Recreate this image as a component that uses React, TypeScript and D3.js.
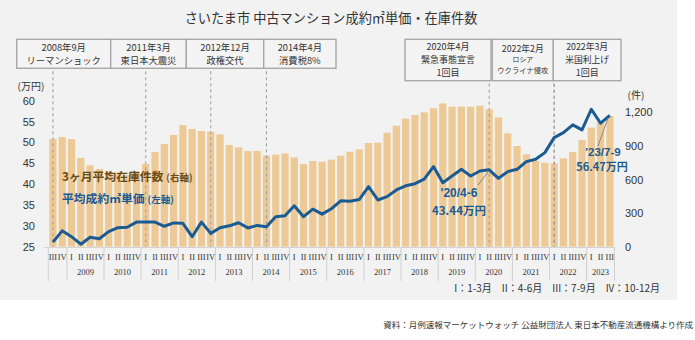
import React from "react";
import * as d3 from "d3";

const quarters: string[] = [
  "2008Q3","2008Q4",
  "2009Q1","2009Q2","2009Q3","2009Q4",
  "2010Q1","2010Q2","2010Q3","2010Q4",
  "2011Q1","2011Q2","2011Q3","2011Q4",
  "2012Q1","2012Q2","2012Q3","2012Q4",
  "2013Q1","2013Q2","2013Q3","2013Q4",
  "2014Q1","2014Q2","2014Q3","2014Q4",
  "2015Q1","2015Q2","2015Q3","2015Q4",
  "2016Q1","2016Q2","2016Q3","2016Q4",
  "2017Q1","2017Q2","2017Q3","2017Q4",
  "2018Q1","2018Q2","2018Q3","2018Q4",
  "2019Q1","2019Q2","2019Q3","2019Q4",
  "2020Q1","2020Q2","2020Q3","2020Q4",
  "2021Q1","2021Q2","2021Q3","2021Q4",
  "2022Q1","2022Q2","2022Q3","2022Q4",
  "2023Q1","2023Q2","2023Q3",
];

// 3ヶ月平均在庫件数 (right axis)
const inventory: number[] = [
  961, 979,
  961, 792, 727, 694,
  670, 650, 640, 660,
  738, 845, 917, 997,
  1086, 1051, 1033, 1027,
  1003, 908, 887, 854,
  854, 813, 822, 833,
  798, 738, 765, 759,
  777, 813, 848, 869,
  926, 929, 1018, 1080,
  1143, 1176, 1200, 1236,
  1280, 1250, 1250, 1250,
  1259, 1227, 1155, 1012,
  899, 825, 765, 750,
  744, 789, 845, 953,
  1063, 1116, 1167,
];

// 平均成約㎡単価 (left axis, 万円)
const unitPrice: number[] = [
  26.1, 28.8,
  27.4, 25.6, 27.25, 26.9,
  28.6, 29.55, 29.65, 30.9,
  30.9, 30.9, 29.9, 30.7,
  30.6, 27.4, 30.9, 28.2,
  29.55, 30.0, 30.75, 29.5,
  30.1, 29.8, 32.2, 32.4,
  34.8, 32.2, 34.0, 32.8,
  34.1, 36.0, 35.9, 36.3,
  39.4, 36.2, 37.0, 38.6,
  39.6, 40.1, 41.2, 44.2,
  40.35, 41.95, 43.55, 41.95,
  43.15, 43.44, 41.4, 43.0,
  43.55, 45.4, 45.95, 47.55,
  51.15, 52.35, 54.2, 53.0,
  57.95, 54.6, 56.47,
];

const leftTicks: number[] = [25, 30, 35, 40, 45, 50, 55, 60];
const rightTicks: number[] = [0, 300, 600, 900, 1200];
const quarterLabels: string[] = ["I", "II", "III", "IV"];

const events: { idx: string; lines: string[] }[] = [
  { idx: "2008Q3", lines: ["2008年9月", "リーマンショック"] },
  { idx: "2011Q1", lines: ["2011年3月", "東日本大震災"] },
  { idx: "2012Q4", lines: ["2012年12月", "政権交代"] },
  { idx: "2014Q2", lines: ["2014年4月", "消費税8%"] },
  { idx: "2020Q2", lines: ["2020年4月", "緊急事態宣言", "1回目"] },
  { idx: "2022Q1", lines: ["2022年2月", "ロシア", "ウクライナ侵攻"] },
  { idx: "2022Q1", lines: ["2022年3月", "米国利上げ", "1回目"] },
];

const boxes = [
  { x0: 16.7, x1: 110.7, y0: 39.3, y1: 68.3 },
  { x0: 110.7, x1: 186.3, y0: 39.3, y1: 68.3 },
  { x0: 186.3, x1: 263.7, y0: 39.3, y1: 68.3 },
  { x0: 263.7, x1: 336, y0: 39.3, y1: 68.3 },
  { x0: 405, x1: 491, y0: 39.3, y1: 80.7 },
  { x0: 492.3, x1: 553.3, y0: 39.3, y1: 80.7 },
  { x0: 553.3, x1: 621, y0: 39.3, y1: 80.7 },
];

const JP = "'Noto Sans CJK JP', 'Noto Sans', sans-serif";
const SANS = "'Liberation Sans', Arial, sans-serif";
const SERIF = "'Liberation Serif', 'DejaVu Serif', serif";

const BAR = "#edca95";
const BLUE = "#1b5b93";
const TXT = "#333333";

export default function App() {
  const W = 695, H = 340;
  const x = d3.scaleBand<string>().domain(quarters).range([48.3, 614.5]).paddingInner(0.22).paddingOuter(0.11);
  const yL = d3.scaleLinear().domain([25, 60]).range([246.7, 100.7]);
  const yR = d3.scaleLinear().domain([0, 1200]).range([246.7, 112.3]);
  const cx = (q: string) => (x(q) as number) + x.bandwidth() / 2;
  const step = x.step();
  const base = 246.7;

  const line = d3.line<number>()
    .x((_, i) => cx(quarters[i]))
    .y((d) => yL(d));

  const years = Array.from(new Set(quarters.map((q) => q.slice(0, 4))));
  const yearGroups = years.map((yr) => {
    const qs = quarters.filter((q) => q.startsWith(yr));
    const start = (x(qs[0]) as number) - (step - x.bandwidth()) / 2;
    const end = (x(qs[qs.length - 1]) as number) + x.bandwidth() + (step - x.bandwidth()) / 2;
    return { yr, start, end };
  });

  const i20 = quarters.indexOf("2020Q2");
  const i23 = quarters.indexOf("2023Q3");

  return (
    <svg width={W} height={H} style={{ display: "block", position: "absolute", left: 0, top: 0 }}>
      <rect x={0} y={0} width={W} height={H} fill="#ffffff" />
      <rect x={0} y={0} width={677} height={300} fill="#f2f2f2" />

      <text x={331} y={23} textAnchor="middle" fontFamily={JP} fontSize={13.2} fill={TXT}>
        さいたま市 中古マンション成約㎡単価・在庫件数
      </text>

      {/* event boxes */}
      {boxes.map((b, i) => {
        const ev = events[i];
        const mid = (b.x0 + b.x1) / 2;
        return (
          <g key={"box" + i}>
            <rect x={b.x0} y={b.y0} width={b.x1 - b.x0} height={b.y1 - b.y0} fill="#f4f4f4" stroke="#a8a8a8" strokeWidth={1.4} />
            {ev.lines.length === 2 ? (
              <>
                <text x={mid} y={50.6} textAnchor="middle" fontFamily={JP} fontSize={9.3} fill={TXT}>{ev.lines[0]}</text>
                <text x={mid} y={64.1} textAnchor="middle" fontFamily={JP} fontSize={9.3} fill={TXT}>{ev.lines[1]}</text>
              </>
            ) : i === 5 ? (
              <>
                <text x={mid} y={51.5} textAnchor="middle" fontFamily={JP} fontSize={8.8} fill={TXT}>{ev.lines[0]}</text>
                <text x={mid} y={62.2} textAnchor="middle" fontFamily={JP} fontSize={6.8} fill={TXT}>{ev.lines[1]}</text>
                <text x={mid} y={73.2} textAnchor="middle" fontFamily={JP} fontSize={7.3} fill={TXT}>{ev.lines[2]}</text>
              </>
            ) : (
              <>
                <text x={mid} y={50} textAnchor="middle" fontFamily={JP} fontSize={i === 6 ? 8.8 : 9} fill={TXT}>{ev.lines[0]}</text>
                <text x={mid} y={63} textAnchor="middle" fontFamily={JP} fontSize={i === 6 ? 8.8 : 9} fill={TXT}>{ev.lines[1]}</text>
                <text x={mid} y={76} textAnchor="middle" fontFamily={JP} fontSize={9} fill={TXT}>{ev.lines[2]}</text>
              </>
            )}
          </g>
        );
      })}

      {/* axis units */}
      <text x={31} y={90} textAnchor="middle" fontFamily={JP} fontSize={10} fill={TXT}>(万円)</text>
      <text x={636} y={99} textAnchor="middle" fontFamily={JP} fontSize={10} fill={TXT}>(件)</text>

      {/* bars */}
      {inventory.map((v, i) => (
        <rect key={"b" + i} x={x(quarters[i])} y={yR(v)} width={x.bandwidth()} height={base - yR(v)} fill={BAR} />
      ))}

      {/* baseline */}
      <line x1={44} x2={615} y1={base + 0.8} y2={base + 0.8} stroke="#d4d4d4" strokeWidth={1} />

      {/* dashed event lines */}
      {events.map((ev, i) => {
        const b = boxes[i];
        const xx = cx(ev.idx);
        return (
          <line key={"dl" + i} x1={xx} x2={xx} y1={b.y1 + 3} y2={base} stroke="#999" strokeWidth={1} strokeDasharray="3,3" />
        );
      })}

      {/* left axis */}
      {leftTicks.map((t) => (
        <text key={"l" + t} x={35} y={yL(t) + 4} textAnchor="end" fontFamily={SANS} fontSize={11} fill={TXT}>{t}</text>
      ))}
      {/* right axis */}
      {rightTicks.map((t) => (
        <text key={"r" + t} x={625} y={yR(t) + 4} textAnchor="start" fontFamily={SANS} fontSize={11} fill={TXT}>{d3.format(",")(t)}</text>
      ))}

      {/* line */}
      <path d={line(unitPrice) ?? ""} fill="none" stroke={BLUE} strokeWidth={3} strokeLinejoin="round" />

      {/* x axis table */}
      {yearGroups.map((g, i) => (
        <g key={"yg" + i}>
          <line x1={g.start} x2={g.start} y1={base + 1} y2={281} stroke="#d0d0d0" strokeWidth={1} />
          {i === yearGroups.length - 1 && (
            <line x1={g.end} x2={g.end} y1={base + 1} y2={281} stroke="#d0d0d0" strokeWidth={1} />
          )}
          {g.yr !== "2008" && (
            <text x={(g.start + g.end) / 2} y={275} textAnchor="middle" fontFamily={SERIF} fontSize={8.5} fill={TXT}>{g.yr}</text>
          )}
        </g>
      ))}
      {quarters.map((q) => (
        <text key={"q" + q} x={cx(q)} y={259.5} textAnchor="middle" fontFamily={SERIF} fontSize={8.5} fill={TXT}>
          {quarterLabels[+q.slice(5) - 1]}
        </text>
      ))}

      {/* series labels */}
      <text x={62} y={180.5} fontFamily={JP} fontWeight="bold" fill="#6a4a14">
        <tspan fontSize={11.8}>3ヶ月平均在庫件数</tspan>
        <tspan fontSize={9.5} dx={3}>(右軸)</tspan>
      </text>
      <text x={62} y={202.5} fontFamily={JP} fontWeight="bold" fill={BLUE}>
        <tspan fontSize={11.8}>平均成約㎡単価</tspan>
        <tspan fontSize={9.5} dx={3}>(左軸)</tspan>
      </text>

      {/* callouts */}
      <line x1={478} y1={185} x2={cx(quarters[i20]) - 1} y2={yL(unitPrice[i20]) + 2} stroke="#888" strokeWidth={1} />
      <text x={459} y={197} textAnchor="middle" fontFamily={SANS} fontWeight="bold" fontSize={12} fill={BLUE}>'20/4-6</text>
      <text x={459} y={214.5} textAnchor="middle" fontFamily={JP} fontWeight="bold" fontSize={11.5} fill={BLUE}>43.44万円</text>

      <line x1={598} y1={146} x2={cx(quarters[i23]) - 2} y2={yL(unitPrice[i23]) + 3} stroke="#888" strokeWidth={1} />
      <text x={603} y={155.5} textAnchor="middle" fontFamily={SANS} fontWeight="bold" fontSize={11.5} fill={BLUE}>'23/7-9</text>
      <text x={602} y={171} textAnchor="middle" fontFamily={JP} fontWeight="bold" fontSize={11} fill={BLUE}>56.47万円</text>

      {/* quarter legend */}
      <text x={660} y={292} textAnchor="end" fontFamily={JP} fontSize={10} fill={TXT} xmlSpace="preserve">
        I：1-3月　II：4-6月　III：7-9月　IV：10-12月
      </text>

      {/* source */}
      <text x={693} y={328} textAnchor="end" fontFamily={JP} fontSize={8.5} fill={TXT}>
        資料：月例速報マーケットウォッチ 公益財団法人 東日本不動産流通機構より作成
      </text>
    </svg>
  );
}
